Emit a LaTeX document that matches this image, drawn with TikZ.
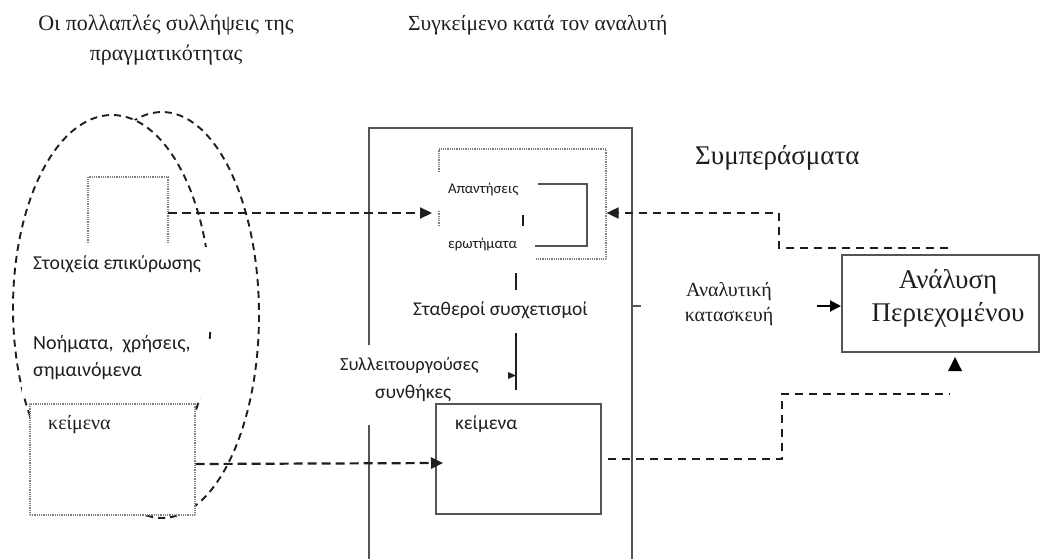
\documentclass[tikz,border=0pt]{standalone}
\usepackage{fontspec}
\setmainfont{Liberation Serif}
\newfontfamily\carl{Carlito}
\usetikzlibrary{arrows.meta}
\definecolor{ink}{HTML}{1E1E1E}
\definecolor{linegray}{HTML}{555555}
\begin{document}
\begin{tikzpicture}[x=1pt,y=-1pt,
  elldash/.style={draw=ink,line width=1.9pt,dash pattern=on 7pt off 5pt},
  dotbox/.style={draw=gray,line width=1.2pt,dash pattern=on 0.9pt off 0.9pt},
  solidbox/.style={draw=linegray,line width=1.6pt},
  thickdash/.style={draw=ink,line width=2.2pt,dash pattern=on 9pt off 5pt},
  thindash/.style={draw=ink,line width=1.8pt,dash pattern=on 8pt off 6pt},
  tipL/.style={-{Triangle[length=12pt,width=11pt]}},
  serif/.style={text=ink,inner sep=0pt,anchor=mid west},
  sans/.style={text=ink,inner sep=0pt,anchor=mid west,font=\carl}
]
\useasboundingbox (0,0) rectangle (1043,559);
\fill[white] (0,0) rectangle (1043,559);

% titles
\node[text=ink,inner sep=0pt,font=\fontsize{22}{30}\selectfont,align=center] (t1) at (166,40)
  {Οι πολλαπλές συλλήψεις της\\πραγματικότητας};
\node[serif,font=\fontsize{21.5}{24}\selectfont] (t2) at (408,28) {Συγκείμενο κατά τον αναλυτή};
\node[serif,font=\fontsize{27}{30}\selectfont] (concl) at (695,162) {Συμπεράσματα};

% ellipses
\draw[elldash] (162,315) ellipse [x radius=97, y radius=203];
\draw[elldash,fill=white] (112,308) ellipse [x radius=99, y radius=193];

% small dotted open box
\coordinate (sbl) at (88,243);
\coordinate (sbr) at (168,243);
\draw[dotbox] (sbl) -- (88,177) -- (168,177) -- (sbr);

% cover frames with text
\fill[white] (22,247) rectangle (228,328);
\fill[white] (22,341) rectangle (228,398);
\node[sans,font=\carl\fontsize{19.7}{22}\selectfont] (stoix) at (33,267) {Στοιχεία επικύρωσης};
\node[sans,font=\carl\fontsize{20}{22}\selectfont] (noim) at (33,347) {Νοήματα,\ \ χρήσεις,};
\node[sans,font=\carl\fontsize{20}{22}\selectfont] (simain) at (33,374) {σημαινόμενα};

% left texts box
\node[dotbox,fill=white,minimum width=165,minimum height=111,inner sep=0pt] (kleft) at (112.5,459.5) {};
\node[serif,font=\fontsize{20}{22}\selectfont] (kleftt) at (48,427) {κείμενα};

% central big frame (open at bottom)
\coordinate (cTL) at (369,128);
\coordinate (cTR) at (632,128);
\draw[solidbox] (369,345) -- (cTL) -- (cTR) -- (632,559);
\draw[solidbox] (369,425) -- (369,559);
\draw[solidbox] (632,306) -- (641,306);

% upper dotted box with cover frames
\node[dotbox,minimum width=167,minimum height=110,inner sep=0pt] (qbox) at (522.5,204) {};
\fill[white] (433,173) rectangle (535,211);
\fill[white] (433,227) rectangle (535,263);
\node[sans,font=\carl\fontsize{14.8}{16}\selectfont] (apant) at (448,191) {Απαντήσεις};
\node[sans,font=\carl\fontsize{14.8}{16}\selectfont] (erot) at (448,246) {ερωτήματα};
\draw[solidbox,line width=1.7pt] (538,184) -- (587,184) -- (587,246) -- (535,246);
\draw[ink,line width=1.7pt] (523,215) -- (523,226);
\draw[ink,line width=1.7pt] (516,273) -- (516,290);
\node[sans,font=\carl\fontsize{19.5}{22}\selectfont] (stath) at (413,313) {Σταθεροί συσχετισμοί};
\draw[ink,line width=1.7pt] (516,333) -- (516,390);
\fill[ink] (508,372) -- (516,375.5) -- (508,379) -- cycle;
\node[sans,font=\carl\fontsize{18.5}{20}\selectfont] (syll) at (340,368) {Συλλειτουργούσες};
\node[sans,font=\carl\fontsize{19.5}{20}\selectfont] (synth) at (375,396) {συνθήκες};

% central texts box
\node[solidbox,minimum width=165,minimum height=110,inner sep=0pt] (kcent) at (518.5,459) {};
\node[sans,font=\carl\fontsize{19.5}{22}\selectfont] (kcentt) at (455,427) {κείμενα};

% analysis box
\node[solidbox,line width=2pt,minimum width=197,minimum height=97,inner sep=0pt] (anal) at (940.5,303.5) {};
\node[text=ink,inner sep=0pt,font=\fontsize{27}{33}\selectfont,align=center] (analt) at (948,298)
  {Ανάλυση\\Περιεχομένου};
\node[text=ink,inner sep=0pt,font=\fontsize{20}{25}\selectfont,align=center] (kat) at (729,304)
  {Αναλυτική\\κατασκευή};

% connectors
\coordinate (a1e) at (432,213);
\draw[thickdash,tipL] (168,213) -- (a1e);
\coordinate (a2e) at (443,463);
\draw[thickdash,tipL] (kleft.east |- 0,464) -- (a2e);
\coordinate (a3s) at (948,248);
\draw[thindash,tipL] (a3s) -- (779,248) -- (779,213) -- (qbox.east |- 0,213);
\coordinate (a4s) at (608,459);
\draw[thindash] (a4s) -- (782,459) -- (782,394) -- (950,394);
\fill[black] (948,371) -- (962,371) -- (955,357) -- cycle;
\draw[black,line width=2pt,-{Triangle[length=11pt,width=11pt]}] (817,306) -- (anal.west |- 0,306);
\end{tikzpicture}
\end{document}
